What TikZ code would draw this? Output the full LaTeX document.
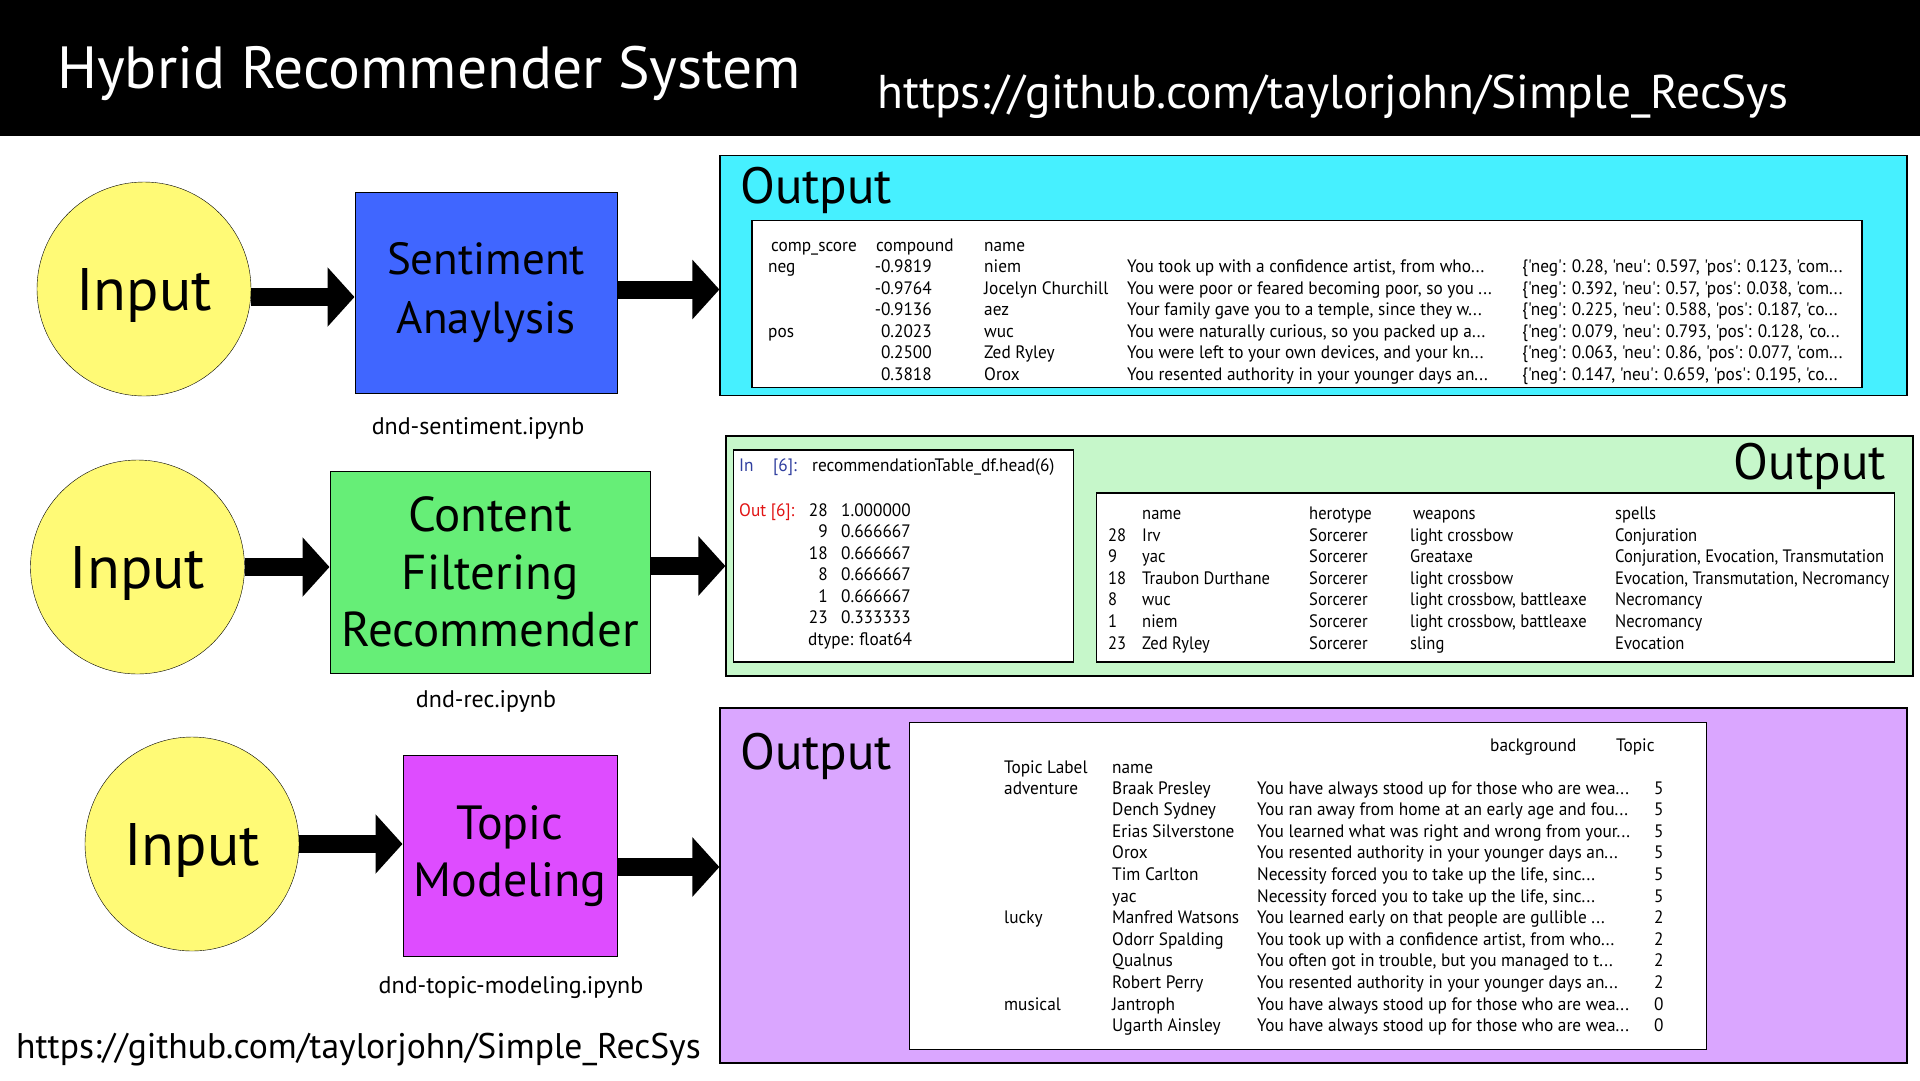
\documentclass[tikz,border=0pt]{standalone}
\usepackage{fontspec}
\setmainfont{PT Sans}[Ligatures=TeXOff]
\newfontfamily\tabfont{PT Sans}[Ligatures=TeXOff, FakeStretch=0.96]
\newfontfamily\narrowtabfont{PT Sans}[Ligatures=TeXOff, FakeStretch=0.92]
\usetikzlibrary{arrows.meta}

\definecolor{inyellow}{RGB}{255,250,118}
\definecolor{sablue}{RGB}{64,102,255}
\definecolor{cfgreen}{RGB}{102,238,119}
\definecolor{tmmagenta}{RGB}{222,76,255}
\definecolor{outcyan}{RGB}{70,240,255}
\definecolor{outgreen}{RGB}{198,247,202}
\definecolor{outpurple}{RGB}{218,166,255}
\definecolor{innavy}{RGB}{48,63,159}
\definecolor{outred}{RGB}{225,20,20}

\tikzset{
  inputnode/.style={draw, circle, fill=inyellow, minimum size=214pt, inner sep=0pt, text depth=0pt, font=\fontsize{60}{62}\selectfont},
  procnode/.style={draw, rectangle, inner sep=0pt, align=center, line width=1pt},
  outbox/.style={draw, rectangle, inner sep=0pt, line width=1.2pt},
  tabbox/.style={draw, rectangle, fill=white, inner sep=0pt, line width=1.2pt},
  flow/.style={line width=18pt, -{Triangle[length=27pt, width=58pt]}},
  cell/.style={anchor=base west, inner sep=0pt, font=\tabfont\fontsize{18}{20}\selectfont},
  rcell/.style={cell, anchor=base east},
  ncell/.style={cell, font=\narrowtabfont\fontsize{18}{20}\selectfont},
  outtitle/.style={anchor=base west, inner sep=0pt, font=\fontsize{51}{54}\selectfont},
  filelabel/.style={anchor=base, inner sep=0pt, font=\fontsize{24}{26}\selectfont},
}

\begin{document}
\begin{tikzpicture}[x=1pt, y=-1pt]
    \useasboundingbox (0,0) rectangle (1920,1080);

    % Title bar
    \fill[black] (0,0) rectangle (1920,136);
    \node[anchor=base west, inner sep=0pt, text=white, font=\fontsize{59.5}{62}\selectfont] (title) at (57,88) {Hybrid Recommender System};
    \node[anchor=base west, inner sep=0pt, text=white, font=\fontsize{47.4}{50}\selectfont] (toplink) at (877,108) {https://github.com/taylorjohn/Simple\_RecSys};

    % Sentiment row
    \node[inputnode] (in1) at (144,289) {Input};
    \node[procnode, fill=sablue, minimum width=262pt, minimum height=201pt, font=\fontsize{45}{59}\selectfont] (sa) at (486,292.5) {Sentiment\\Anaylysis};
    \node[filelabel] (salabel) at (478,434) {dnd-sentiment.ipynb};
    \node[outbox, fill=outcyan, minimum width=1187pt, minimum height=240pt] (out1) at (1313.5,275.5) {};
    \node[outtitle] (out1title) at (740,203) {Output};
    \node[tabbox, minimum width=1110pt, minimum height=167pt] (t1) at (1307,304) {};

    \draw[flow] ([yshift=-8pt]in1.east) -- ([yshift=-8pt]in1.east -| sa.west);
    \draw[flow] ([yshift=3pt]sa.east) -- ([yshift=3pt]sa.east -| out1.west);

    % Sentiment table
    \node[cell] (t1h1) at (771,251) {comp\_score};
    \node[cell] (t1h2) at (876,251) {compound};
    \node[cell] (t1h3) at (984,251) {name};
    \foreach \lab/\cmp/\nm/\txt/\dct [count=\i] in {
        neg/-0.9819/niem/{You took up with a confidence artist, from who...}/{\{'neg': 0.28, 'neu': 0.597, 'pos': 0.123, 'com...},
        {}/-0.9764/Jocelyn Churchill/{You were poor or feared becoming poor, so you ...}/{\{'neg': 0.392, 'neu': 0.57, 'pos': 0.038, 'com...},
        {}/-0.9136/aez/{Your family gave you to a temple, since they w...}/{\{'neg': 0.225, 'neu': 0.588, 'pos': 0.187, 'co...},
        pos/0.2023/wuc/{You were naturally curious, so you packed up a...}/{\{'neg': 0.079, 'neu': 0.793, 'pos': 0.128, 'co...},
        {}/0.2500/Zed Ryley/{You were left to your own devices, and your kn...}/{\{'neg': 0.063, 'neu': 0.86, 'pos': 0.077, 'com...},
        {}/0.3818/Orox/{You resented authority in your younger days an...}/{\{'neg': 0.147, 'neu': 0.659, 'pos': 0.195, 'co...}} {
        \node[cell] (t1l\i) at (768,{251+21.5*\i}) {\lab};
        \node[rcell] (t1c\i) at (932,{251+21.5*\i}) {\cmp};
        \node[cell] (t1n\i) at (984,{251+21.5*\i}) {\nm};
        \node[cell] (t1t\i) at (1127,{251+21.5*\i}) {\txt};
        \node[cell] (t1d\i) at (1522,{251+21.5*\i}) {\dct};
    }

    % Content filtering row
    \node[inputnode] (in2) at (137.5,567) {Input};
    \node[procnode, fill=cfgreen, minimum width=320pt, minimum height=202pt, font=\fontsize{49}{57.5}\selectfont] (cf) at (490,572) {Content\\Filtering\\Recommender};
    \node[filelabel] (cflabel) at (486,707) {dnd-rec.ipynb};
    \node[outbox, fill=outgreen, minimum width=1187pt, minimum height=240pt] (out2) at (1319.5,556) {};
    \node[outtitle, anchor=base east] (out2title) at (1886,479) {Output};
    \node[tabbox, minimum width=340pt, minimum height=212pt] (t2a) at (903.5,556) {};
    \node[tabbox, minimum width=798pt, minimum height=169pt] (t2b) at (1495.5,577.5) {};

    \draw[flow] (in2.east) -- (in2.east -| cf.west);
    \draw[flow] ([yshift=6pt]cf.east) -- ([yshift=6pt]cf.east -| out2.west);

    % Jupyter cell
    \node[cell, text=innavy] (inlab) at (739,471) {In};
    \node[cell, text=innavy] (innum) at (773,471) {[6]:};
    \node[cell] (incode) at (812,471) {recommendationTable\_df.head(6)};
    \node[cell, text=outred] (outlab) at (739,516) {Out [6]:};
    \foreach \idx/\val [count=\i] in {28/1.000000, 9/0.666667, 18/0.666667, 8/0.666667, 1/0.666667, 23/0.333333} {
        \node[rcell] (t2i\i) at (828,{516+21.5*(\i-1)}) {\idx};
        \node[cell] (t2v\i) at (841,{516+21.5*(\i-1)}) {\val};
    }
    \node[cell] (dtype) at (808,645) {dtype: float64};

    % Recommendation table
    \node[ncell] (t2h1) at (1142,519.5) {name};
    \node[ncell] (t2h2) at (1309,519.5) {herotype};
    \node[ncell] (t2h3) at (1413,519.5) {weapons};
    \node[ncell] (t2h4) at (1615,519.5) {spells};
    \foreach \idx/\nm/\typ/\wpn/\spl [count=\i] in {
        28/Irv/Sorcerer/{light crossbow}/{Conjuration},
        9/yac/Sorcerer/{Greataxe}/{Conjuration, Evocation, Transmutation},
        18/Traubon Durthane/Sorcerer/{light crossbow}/{Evocation, Transmutation, Necromancy},
        8/wuc/Sorcerer/{light crossbow, battleaxe}/{Necromancy},
        1/niem/Sorcerer/{light crossbow, battleaxe}/{Necromancy},
        23/Zed Ryley/Sorcerer/{sling}/{Evocation}} {
        \node[ncell] (t2r\i) at (1108,{541+21.6*(\i-1)}) {\idx};
        \node[ncell] (t2n\i) at (1142,{541+21.6*(\i-1)}) {\nm};
        \node[ncell] (t2y\i) at (1309,{541+21.6*(\i-1)}) {\typ};
        \node[ncell] (t2w\i) at (1410,{541+21.6*(\i-1)}) {\wpn};
        \node[ncell] (t2s\i) at (1615,{541+21.6*(\i-1)}) {\spl};
    }

    % Topic modeling row
    \node[inputnode] (in3) at (192,844) {Input};
    \node[procnode, fill=tmmagenta, minimum width=214pt, minimum height=201pt, font=\fontsize{48}{57}\selectfont] (tm) at (510,856) {Topic\\Modeling};
    \node[filelabel] (tmlabel) at (511,993) {dnd-topic-modeling.ipynb};
    \node[outbox, fill=outpurple, minimum width=1187pt, minimum height=355pt] (out3) at (1313.5,885.5) {};
    \node[outtitle] (out3title) at (740,769) {Output};
    \node[tabbox, minimum width=797pt, minimum height=327pt] (t3) at (1308,886) {};

    \draw[flow] (in3.east) -- (in3.east -| tm.west);
    \draw[flow] ([yshift=-11pt]tm.east) -- ([yshift=-11pt]tm.east -| out3.west);

    % Topic table
    \node[cell] (t3h1) at (1490,751) {background};
    \node[cell] (t3h2) at (1616,751) {Topic};
    \node[cell] (t3h3) at (1004,773) {Topic Label};
    \node[cell] (t3h4) at (1112,773) {name};
    \foreach \lab/\nm/\txt/\top [count=\i] in {
        adventure/Braak Presley/{You have always stood up for those who are wea...}/5,
        {}/Dench Sydney/{You ran away from home at an early age and fou...}/5,
        {}/Erias Silverstone/{You learned what was right and wrong from your...}/5,
        {}/Orox/{You resented authority in your younger days an...}/5,
        {}/Tim Carlton/{Necessity forced you to take up the life, sinc...}/5,
        {}/yac/{Necessity forced you to take up the life, sinc...}/5,
        lucky/Manfred Watsons/{You learned early on that people are gullible ...}/2,
        {}/Odorr Spalding/{You took up with a confidence artist, from who...}/2,
        {}/Qualnus/{You often got in trouble, but you managed to t...}/2,
        {}/Robert Perry/{You resented authority in your younger days an...}/2,
        musical/Jantroph/{You have always stood up for those who are wea...}/0,
        {}/Ugarth Ainsley/{You have always stood up for those who are wea...}/0} {
        \node[cell] (t3l\i) at (1004,{794+21.6*(\i-1)}) {\lab};
        \node[cell] (t3n\i) at (1112,{794+21.6*(\i-1)}) {\nm};
        \node[cell] (t3t\i) at (1257,{794+21.6*(\i-1)}) {\txt};
        \node[cell] (t3k\i) at (1654,{794+21.6*(\i-1)}) {\top};
    }

    % Footer link
    \node[anchor=base west, inner sep=0pt, font=\fontsize{35.6}{38}\selectfont] (botlink) at (16,1058) {https://github.com/taylorjohn/Simple\_RecSys};
\end{tikzpicture}
\end{document}
